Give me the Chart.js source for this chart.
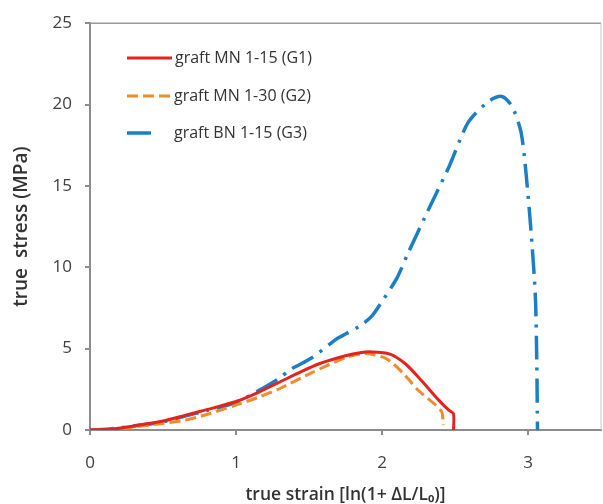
<!DOCTYPE html>
<html>
<head>
<meta charset="utf-8">
<script src="https://cdn.jsdelivr.net/npm/chart.js@4.4.1/dist/chart.umd.min.js"></script>
<style>
  html, body { margin: 0; padding: 0; background: #fff; }
  #wrap { width: 603px; height: 504px; position: relative; }
</style>
</head>
<body>
<div id="wrap"><canvas id="stressChart"></canvas></div>
<script>
// series names
const seriesNames = ['graft MN 1-15 (G1)', 'graft MN 1-30 (G2)', 'graft BN 1-15 (G3)'];

// G1
const g1Strain = [0, 0.15, 0.3, 0.5, 0.65, 0.8, 1.0, 1.15, 1.3, 1.45, 1.57, 1.75, 1.85, 1.93, 2.05, 2.16, 2.27, 2.39, 2.46, 2.49, 2.49];
const g1Stress = [0, 0.05, 0.25, 0.55, 0.9, 1.25, 1.75, 2.3, 2.95, 3.6, 4.07, 4.56, 4.75, 4.8, 4.68, 4.07, 3.04, 1.82, 1.2, 1.0, 0];

// G2
const g2Strain = [0, 0.2, 0.31, 0.5, 0.65, 0.8, 0.99, 1.15, 1.3, 1.52, 1.75, 1.89, 2.03, 2.14, 2.25, 2.37, 2.41, 2.42];
const g2Stress = [0, 0.05, 0.2, 0.4, 0.6, 0.95, 1.5, 2.0, 2.55, 3.53, 4.44, 4.7, 4.38, 3.53, 2.43, 1.52, 1.1, 0.3];

// G3
const g3Strain = [0, 0.15, 0.3, 0.5, 0.65, 0.8, 1.0, 1.19, 1.3, 1.37, 1.52, 1.69, 1.75, 1.85, 1.93, 2.0, 2.1, 2.18, 2.3, 2.46, 2.59, 2.73, 2.82, 2.89, 2.95, 2.98, 3.02, 3.05, 3.06, 3.065];
const g3Stress = [0, 0.08, 0.25, 0.5, 0.85, 1.2, 1.7, 2.6, 3.2, 3.7, 4.44, 5.6, 5.9, 6.4, 7.0, 7.9, 9.3, 10.9, 13.2, 16.2, 18.9, 20.2, 20.5, 19.9, 18.4, 16.4, 12.3, 8.3, 4.3, 0];

const yTicks = [0, 5, 10, 15, 20, 25];
const xTicks = [0, 1, 2, 3];

function toPoints(xs, ys) {
    return xs.map((x, i) => ({ x: x, y: ys[i] }));
}

const axisGray = '#8c8c8c';
const labelFont = { family: "'Open Sans', sans-serif", size: 17 };

// legend drawn inside the plot, top left
const insideLegend = {
    id: 'insideLegend',
    afterDraw(chart) {
        const ctx = chart.ctx;
        const rows = [
            { y: 58, x0: 127, x1: 172, tx: 175 },
            { y: 96, x0: 127, x1: 170, tx: 174 },
            { y: 133, x0: 127, x1: 158, tx: 174 }
        ];
        ctx.save();
        chart.data.datasets.forEach((ds, i) => {
            const r = rows[i];
            ctx.strokeStyle = ds.borderColor;
            ctx.lineWidth = ds.borderWidth;
            ctx.setLineDash(ds.borderDash || []);
            ctx.beginPath();
            ctx.moveTo(r.x0, r.y);
            ctx.lineTo(r.x1, r.y);
            ctx.stroke();
            ctx.setLineDash([]);
            ctx.fillStyle = '#333';
            ctx.font = "16px 'Open Sans', sans-serif";
            ctx.textBaseline = 'middle';
            ctx.textAlign = 'left';
            ctx.fillText(ds.label, r.tx, r.y);
        });
        ctx.restore();
    }
};

// top and right frame of the plot area
const plotFrame = {
    id: 'plotFrame',
    beforeDatasetsDraw(chart) {
        const a = chart.chartArea;
        const ctx = chart.ctx;
        ctx.save();
        ctx.strokeStyle = '#9a9a9a';
        ctx.lineWidth = 1.5;
        ctx.beginPath();
        ctx.moveTo(a.left, a.top);
        ctx.lineTo(a.right, a.top);
        ctx.stroke();
        ctx.strokeStyle = '#c8c8c8';
        ctx.lineWidth = 1;
        ctx.beginPath();
        ctx.moveTo(a.right, a.top);
        ctx.lineTo(a.right, a.bottom);
        ctx.stroke();
        ctx.restore();
    }
};

const ctx = document.getElementById('stressChart').getContext('2d');
new Chart(ctx, {
    type: 'line',
    data: {
        datasets: [{
            label: seriesNames[0],
            data: toPoints(g1Strain, g1Stress),
            borderColor: '#e3231d',
            borderWidth: 3,
            pointRadius: 0,
            tension: 0.25,
            fill: false
        }, {
            label: seriesNames[1],
            data: toPoints(g2Strain, g2Stress),
            borderColor: '#f08a2e',
            borderWidth: 3,
            borderDash: [11, 5],
            pointRadius: 0,
            tension: 0.25,
            fill: false
        }, {
            label: seriesNames[2],
            data: toPoints(g3Strain, g3Stress),
            borderColor: '#1b7fc4',
            borderWidth: 3.5,
            borderDash: [24, 8, 3, 8],
            pointRadius: 0,
            tension: 0.25,
            fill: false
        }]
    },
    options: {
        responsive: true,
        maintainAspectRatio: false,
        animation: false,
        layout: { padding: { top: 19, right: 2, left: 0, bottom: 0 } },
        plugins: {
            legend: { display: false },
            tooltip: { enabled: false }
        },
        scales: {
            x: {
                type: 'linear',
                min: 0,
                max: 3.5,
                afterFit(scale) { scale.height = 74; },
                afterBuildTicks(scale) { scale.ticks = xTicks.map(v => ({ value: v })); },
                ticks: { font: labelFont, color: '#404040', padding: 18 },
                grid: { drawOnChartArea: false, drawTicks: true, tickLength: 5, color: axisGray, lineWidth: 2 },
                border: { color: axisGray, width: 2 },
                title: {
                    display: true,
                    text: 'true strain [ln(1+ ΔL/L₀)]',
                    color: '#333',
                    font: { family: "'Open Sans', sans-serif", size: 17.5, weight: '600' },
                    padding: { top: 0, bottom: -2 }
                }
            },
            y: {
                min: 0,
                max: 25,
                afterFit(scale) { scale.width = 90; },
                afterBuildTicks(scale) { scale.ticks = yTicks.map(v => ({ value: v })); },
                ticks: { font: labelFont, color: '#404040', padding: 13 },
                grid: { drawOnChartArea: false, drawTicks: true, tickLength: 5, color: axisGray, lineWidth: 2 },
                border: { color: axisGray, width: 2 },
                title: {
                    display: true,
                    text: 'true  stress (MPa)',
                    color: '#333',
                    font: { family: "'Open Sans', sans-serif", size: 19, weight: '600' },
                    padding: { top: 10, bottom: 0 }
                }
            }
        }
    },
    plugins: [plotFrame, insideLegend]
});
</script>
</body>
</html>
